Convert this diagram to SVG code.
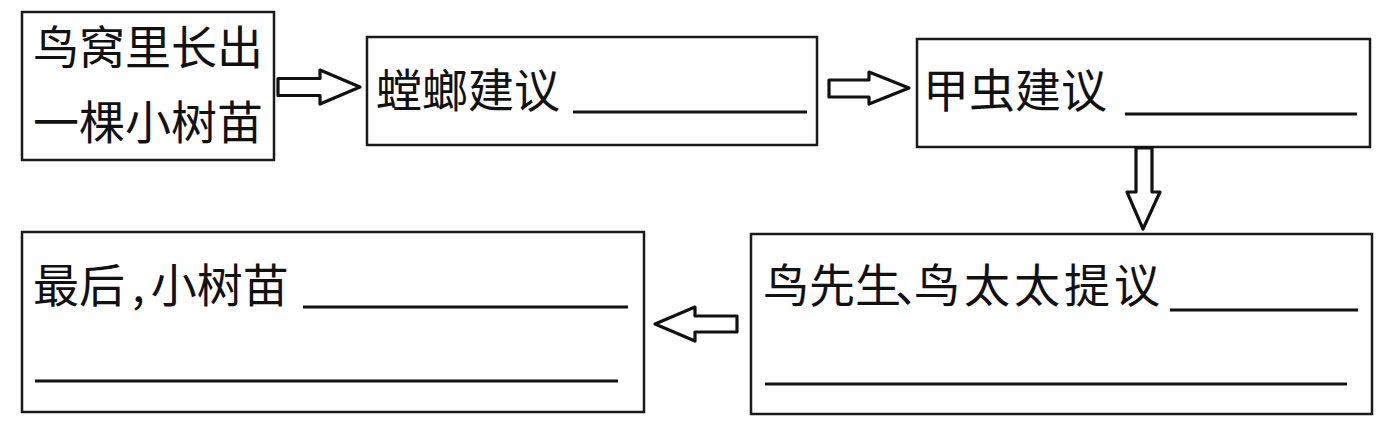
<svg xmlns="http://www.w3.org/2000/svg" width="1395" height="432" viewBox="0 0 1395 432">
<style>
.box{fill:#fff;stroke:#1a1a1a;stroke-width:2.5}
.t{font-family:"Noto Sans CJK SC","Noto Sans CJK TC",sans-serif;font-size:46px;fill:#111}
.ul{stroke:#111;stroke-width:3}
.arr{fill:#fff;stroke:#111;stroke-width:3.2;stroke-linejoin:round}
</style>
<rect width="1395" height="432" fill="#fff"/>
<g id="node1">
<rect class="box" x="22" y="12" width="252" height="148"/>
<text class="t" x="33" y="64">鸟窝里长出</text>
<text class="t" x="33" y="139">一棵小树苗</text>
</g>
<g id="node2">
<rect class="box" x="367" y="37" width="450" height="108"/>
<text class="t" x="376" y="107">螳螂建议</text>
<line class="ul" x1="573" y1="112" x2="807" y2="112"/>
</g>
<g id="node3">
<rect class="box" x="917" y="39" width="453" height="108"/>
<text class="t" x="923" y="107">甲虫建议</text>
<line class="ul" x1="1125" y1="114" x2="1357" y2="114"/>
</g>
<g id="node4">
<rect class="box" x="751" y="234" width="621" height="180"/>
<text class="t" x="763" y="302" dx="0 0 0 -6 -27 4 4 4 4">鸟先生、鸟太太提议</text>
<line class="ul" x1="1170" y1="310" x2="1358" y2="310"/>
<line class="ul" x1="765" y1="384" x2="1347" y2="384"/>
</g>
<g id="node5">
<rect class="box" x="22" y="232" width="622" height="180"/>
<text class="t" x="33" y="302" dx="0 0 7 6">最后,小树苗</text>
<line class="ul" x1="303" y1="307" x2="628" y2="307"/>
<line class="ul" x1="35" y1="381" x2="618" y2="381"/>
</g>
<g id="connectors">
<polygon class="arr" points="278,78.5 320,78.5 320,70 360,87 320,104 320,95.5 278,95.5"/>
<polygon class="arr" points="829,80 869,80 869,72 909,88 869,104 869,97 829,97"/>
<polygon class="arr" points="1136,148 1152,148 1152,192 1160,192 1143,229 1127,192 1136,192"/>
<polygon class="arr" points="737,316 695,316 695,307 655,324 695,341 695,332 737,332"/>
</g>
</svg>
